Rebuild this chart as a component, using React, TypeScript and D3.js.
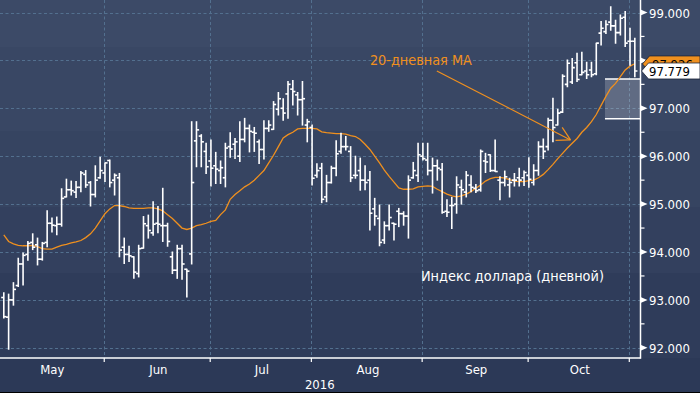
import React from 'react';
import * as d3 from 'd3';

const W = 700;
const H = 393;

// Daily OHLC, US Dollar Index, May 2 – Nov 1 2016 (weekday index)
const opens = [
  93.05, 92.64, 93.0, 93.3, 93.75, 93.95, 94.2, 94.15, 93.85, 94.2,
  94.6, 94.55, 94.58, 95.15, 95.3, 95.25, 95.35, 95.62, 95.45, 95.2,
  95.55, 95.65, 95.91, 95.5, 95.55, 94.1, 93.95, 93.9, 93.55, 94.08,
  94.55, 94.4, 94.6, 94.55, 94.55, 93.9, 93.62, 94.07, 93.64, 93.96,
  96.32, 96.42, 96.1, 95.9, 95.8, 95.7, 95.55, 96.2, 96.25, 96.0,
  96.35, 96.58, 96.5, 96.3, 96.14, 96.58, 96.56, 96.98, 97.0, 97.3,
  97.4, 97.28, 97.18, 96.65, 96.6, 95.6, 95.75, 95.15, 95.45, 95.75,
  96.1, 96.2, 96.1, 95.6, 95.7, 95.5, 95.5, 94.9, 94.7, 94.25,
  94.55, 94.6, 94.85, 94.8, 94.75, 95.55, 95.6, 96.0, 95.92, 95.7,
  95.8, 95.72, 94.85, 94.97, 95.0, 95.35, 95.25, 95.4, 95.33, 95.3,
  95.9, 96.03, 95.7, 95.5, 95.45, 95.4, 95.5, 95.55, 95.55, 95.6,
  95.45, 95.7, 96.2, 96.2, 96.75, 96.65, 96.92, 97.5, 97.55, 97.95,
  97.7, 97.78, 97.8, 97.72, 98.57, 98.6, 98.8, 98.72, 98.58, 98.9,
  98.4, 98.4,
];
const highs = [
  93.15, 93.12, 93.36, 93.87, 93.98, 94.22, 94.38, 94.29, 94.2, 94.86,
  94.71, 94.73, 95.32, 95.52, 95.48, 95.47, 95.68, 95.7, 95.47, 95.8,
  95.98, 95.86, 95.92, 95.63, 95.64, 94.29, 94.12, 93.9, 94.14, 94.74,
  94.77, 95.05, 94.95, 95.33, 94.6, 94.0, 94.14, 94.14, 93.64, 96.72,
  96.72, 96.45, 96.27, 96.34, 96.08, 95.9, 96.27, 96.49, 96.37, 96.72,
  96.79, 96.65, 96.6, 96.34, 96.74, 96.74, 97.14, 97.33, 97.2, 97.56,
  97.58, 97.33, 97.56, 96.77, 96.65, 95.84, 95.85, 95.6, 95.79, 96.32,
  96.48, 96.41, 96.2, 96.0, 95.96, 95.8, 95.68, 95.12, 94.98, 94.63,
  94.98, 94.6, 94.91, 94.84, 95.59, 95.87, 96.27, 96.27, 96.27, 95.96,
  95.92, 95.85, 95.09, 95.14, 95.57, 95.5, 95.68, 95.59, 95.41, 96.13,
  96.06, 96.03, 96.34, 95.57, 95.69, 95.54, 95.64, 95.75, 95.69, 95.97,
  95.82, 96.3, 96.36, 96.79, 97.21, 96.98, 97.7, 98.01, 98.04, 98.15,
  98.17, 97.96, 97.96, 98.36, 98.81, 98.83, 99.12, 98.84, 98.95, 99.02,
  98.67, 98.46,
];
const lows = [
  92.62, 91.97, 92.89, 93.28, 93.31, 93.83, 94.05, 93.73, 93.83, 94.11,
  94.42, 94.36, 94.54, 95.15, 95.19, 95.14, 95.26, 95.35, 94.96, 95.15,
  95.54, 95.47, 95.36, 95.19, 93.9, 93.76, 93.8, 93.45, 93.48, 94.08,
  94.29, 94.35, 94.4, 94.22, 94.12, 93.55, 93.45, 93.43, 93.06, 93.75,
  95.78, 95.78, 95.64, 95.38, 95.43, 95.43, 95.36, 95.98, 95.95, 95.89,
  96.3, 96.09, 96.1, 95.85, 95.94, 96.52, 96.56, 96.86, 96.75, 96.79,
  97.07, 96.86, 96.65, 96.3, 95.4, 95.56, 95.03, 95.05, 95.44, 95.59,
  96.06, 96.13, 95.47, 95.54, 95.29, 95.3, 94.46, 94.56, 94.13, 94.18,
  94.46, 94.25, 94.53, 94.56, 94.29, 95.54, 95.47, 95.92, 95.61, 95.23,
  95.5, 94.81, 94.74, 94.49, 94.81, 95.0, 95.15, 95.26, 95.24, 95.27,
  95.66, 95.68, 95.68, 95.09, 95.38, 95.15, 95.38, 95.38, 95.39, 95.35,
  95.4, 95.6, 95.95, 96.13, 96.3, 96.65, 96.91, 97.45, 97.52, 97.56,
  97.7, 97.62, 97.66, 97.7, 98.32, 98.56, 98.63, 98.36, 98.53, 98.29,
  97.9, 97.66,
];
const closes = [
  92.65, 93.0, 93.22, 93.75, 93.93, 94.18, 94.1, 93.85, 94.18, 94.6,
  94.56, 94.58, 95.12, 95.3, 95.28, 95.35, 95.65, 95.4, 95.2, 95.5,
  95.7, 95.86, 95.45, 95.6, 94.04, 93.95, 93.92, 93.58, 94.07, 94.59,
  94.45, 94.58, 94.58, 94.55, 94.22, 93.62, 94.07, 93.75, 93.6, 95.45,
  96.55, 96.3, 95.78, 95.75, 95.73, 95.76, 96.17, 96.15, 96.3, 96.35,
  96.58, 96.52, 96.48, 96.14, 96.58, 96.65, 97.08, 97.2, 96.9, 97.5,
  97.35, 97.18, 97.2, 96.72, 95.54, 95.7, 95.1, 95.45, 95.75, 96.05,
  96.2, 96.2, 95.55, 95.6, 95.5, 95.45, 94.81, 94.75, 94.2, 94.55,
  94.72, 94.58, 94.8, 94.75, 95.5, 95.7, 96.03, 95.95, 95.7, 95.8,
  95.75, 94.83, 94.83, 94.97, 95.4, 95.3, 95.6, 95.35, 95.28, 96.1,
  95.88, 95.7, 95.68, 95.45, 95.57, 95.45, 95.5, 95.5, 95.66, 95.52,
  95.7, 96.2, 96.1, 96.75, 96.6, 96.9, 97.67, 97.94, 97.85, 97.6,
  97.75, 97.7, 97.7, 98.36, 98.67, 98.75, 98.72, 98.58, 98.88, 98.36,
  98.4, 97.779,
];
// 20-day moving average (orange line)
const ma20 = [
  94.36, 94.22, 94.17, 94.14, 94.13, 94.13, 94.14, 94.11, 94.07, 94.06,
  94.06, 94.1, 94.14, 94.16, 94.19, 94.21, 94.24, 94.3, 94.38, 94.5,
  94.65, 94.8, 94.9, 94.97, 94.97, 94.95, 94.92, 94.91, 94.91, 94.91,
  94.92, 94.92, 94.9, 94.86, 94.78, 94.7, 94.6, 94.5, 94.47, 94.5,
  94.55, 94.57, 94.6, 94.64, 94.66, 94.78, 94.88, 95.1, 95.2, 95.28,
  95.36, 95.42, 95.5, 95.6, 95.7, 95.86, 96.02, 96.2, 96.38, 96.45,
  96.5, 96.57, 96.58, 96.58, 96.58, 96.57, 96.51, 96.49, 96.48, 96.47,
  96.47, 96.46, 96.43, 96.41, 96.35, 96.25, 96.14, 96.0, 95.86, 95.71,
  95.58, 95.46, 95.34, 95.31, 95.31, 95.32, 95.36, 95.37, 95.38, 95.37,
  95.31, 95.26, 95.21, 95.17, 95.15, 95.17, 95.21, 95.26, 95.33, 95.4,
  95.48, 95.53, 95.56, 95.56, 95.54, 95.51, 95.48, 95.47, 95.47, 95.49,
  95.5, 95.55, 95.62, 95.72, 95.83, 95.95, 96.06, 96.17, 96.27, 96.37,
  96.5, 96.6, 96.72, 96.87, 97.06, 97.25, 97.42, 97.52, 97.66, 97.8,
  97.88, 97.93,
];

const monthLabels = ['May', 'Jun', 'Jul', 'Aug', 'Sep', 'Oct'];
const monthStartIdx = [0, 22, 44, 65, 88, 110, 131];
const yearLabel = '2016';
const yearLabelIdx = 65.6;
const yMajorTicks = [92, 93, 94, 95, 96, 97, 98, 99];
const yMinorTicks = [92.5, 93.5, 94.5, 95.5, 96.5, 97.5, 98.5];
const lastPrice = 97.779;
const maLastLabel = 97.926;
const boxRange = [96.78, 97.61];
const boxStartIdx = 124.8;
const annotationText = '20-дневная MA';
const annotationTextPos = [76.0, 97.9];
const annotationFrom = [89.9, 97.78];
const annotationTo = [117.65, 96.34];
const seriesTitle = 'Индекс доллара (дневной)';
const seriesTitlePos = [86.6, 93.39];

const FONT = "'DejaVu Sans Condensed', 'DejaVu Sans', sans-serif";
const FONT_W = "'DejaVu Sans', sans-serif";

export default function App() {
  const plotRight = 640.5;
  const axisY = 358;
  const x = d3.scaleLinear().domain([0, 131]).range([3.8, 3.8 + 131 * 4.817]);
  const y = d3.scaleLinear().domain([92, 99]).range([347.8, 12.5]);

  const tickX = monthStartIdx.map((i) => x(i - 1.15));
  const labelX = monthLabels.map((_, i) => x((monthStartIdx[i] + monthStartIdx[i + 1] - 1) / 2) - 2);
  const maLine = d3
    .line<number>()
    .x((_, i) => x(i))
    .y((d) => y(d))(ma20) as string;

  const bands = [
    { y0: 0, y1: 47, c: '#3c4a67' },
    { y0: 47, y1: 131, c: '#394764' },
    { y0: 131, y1: 207, c: '#364461' },
    { y0: 207, y1: 273, c: '#33405e' },
    { y0: 273, y1: 358, c: '#2f3c5a' },
    { y0: 358, y1: 393, c: '#2c3957' },
  ];

  const gridColor = '#53708f';
  const orange = '#f0901e';

  // annotation arrow geometry
  const ax0 = x(annotationFrom[0]);
  const ay0 = y(annotationFrom[1]);
  const ax1 = x(annotationTo[0]);
  const ay1 = y(annotationTo[1]);
  const ang = Math.atan2(ay1 - ay0, ax1 - ax0);
  const headLen = 15;
  const headAng = (29 * Math.PI) / 180;
  const h1x = ax1 - headLen * Math.cos(ang - headAng);
  const h1y = ay1 - headLen * Math.sin(ang - headAng);
  const h2x = ax1 - headLen * Math.cos(ang + headAng);
  const h2y = ay1 - headLen * Math.sin(ang + headAng);

  const lpY = y(lastPrice);
  const maY = y(maLastLabel);

  return (
    <svg
      width={W}
      height={H}
      style={{ position: 'absolute', left: 0, top: 0, display: 'block' }}
    >
      <defs>
        <clipPath id="plotClip">
          <rect x={0} y={0} width={plotRight} height={axisY} />
        </clipPath>
        <clipPath id="maLabelClip">
          <rect x={plotRight} y={maY - 8} width={W - plotRight} height={lpY - 8 - (maY - 8)} />
        </clipPath>
      </defs>
      {bands.map((b, i) => (
        <rect key={i} x={0} y={b.y0} width={W} height={b.y1 - b.y0} fill={b.c} />
      ))}
      <rect x={0} y={H - 1} width={W} height={1} fill="#000" />

      {/* grid */}
      <g stroke={gridColor} strokeWidth={1} strokeDasharray="3,2.5">
        {yMajorTicks.map((v) => (
          <line key={v} x1={0} x2={plotRight} y1={Math.round(y(v)) + 0.5} y2={Math.round(y(v)) + 0.5} />
        ))}
        {tickX.slice(1).map((tx, i) => (
          <line key={i} x1={Math.round(tx) + 0.5} x2={Math.round(tx) + 0.5} y1={0} y2={axisY} />
        ))}
      </g>

      {/* highlighted box */}
      <g>
        <rect
          x={x(boxStartIdx)}
          y={y(boxRange[1])}
          width={plotRight - x(boxStartIdx)}
          height={y(boxRange[0]) - y(boxRange[1])}
          fill="#ffffff"
          fillOpacity={0.2}
        />
        <line x1={x(boxStartIdx)} x2={plotRight} y1={y(boxRange[1])} y2={y(boxRange[1])} stroke="#fff" strokeWidth={1.5} />
        <line x1={x(boxStartIdx)} x2={plotRight} y1={y(boxRange[0])} y2={y(boxRange[0])} stroke="#fff" strokeWidth={1.5} />
      </g>

      <g clipPath="url(#plotClip)">
        <path d={maLine} fill="none" stroke={orange} strokeWidth={1.3} />
        <g stroke="#ffffff" strokeWidth={1.6}>
          {closes.map((c, i) => {
            const cx = x(i);
            return (
              <g key={i}>
                <line x1={cx} x2={cx} y1={y(highs[i]) - 0.5} y2={y(lows[i]) + 0.5} />
                <line x1={cx - 2.6} x2={cx} y1={y(opens[i])} y2={y(opens[i])} />
                <line x1={cx} x2={cx + 2.6} y1={y(c)} y2={y(c)} />
              </g>
            );
          })}
        </g>
      </g>

      {/* annotation */}
      <g stroke={orange} strokeWidth={1.2} fill="none">
        <line x1={ax0} y1={ay0} x2={ax1} y2={ay1} />
        <line x1={h1x} y1={h1y} x2={ax1} y2={ay1} />
        <line x1={h2x} y1={h2y} x2={ax1} y2={ay1} />
      </g>
      <text
        x={x(annotationTextPos[0])}
        y={y(annotationTextPos[1])}
        fill={orange}
        fontFamily={FONT_W}
        fontSize={13.5}
        textLength={102}
        lengthAdjust="spacingAndGlyphs"
      >
        {annotationText}
      </text>
      <text
        x={x(seriesTitlePos[0])}
        y={y(seriesTitlePos[1])}
        fill="#ffffff"
        fontFamily={FONT_W}
        fontSize={13.5}
        textLength={183}
        lengthAdjust="spacingAndGlyphs"
      >
        {seriesTitle}
      </text>

      {/* axes */}
      <line x1={plotRight} x2={plotRight} y1={0} y2={axisY + 0.75} stroke="#fff" strokeWidth={1.5} />
      <line x1={0} x2={plotRight} y1={axisY} y2={axisY} stroke="#fff" strokeWidth={1.5} />
      {tickX.slice(1).map((tx, i) => (
        <line key={i} x1={tx} x2={tx} y1={axisY} y2={axisY + 4} stroke="#fff" strokeWidth={1.2} />
      ))}
      {monthLabels.map((m, i) => (
        <text
          key={m}
          x={labelX[i]}
          y={373.5}
          fill="#fff"
          fontFamily={FONT}
          fontSize={13}
          textAnchor="middle"
        >
          {m}
        </text>
      ))}
      <text x={x(yearLabelIdx)} y={389} fill="#fff" fontFamily={FONT} fontSize={13} textAnchor="middle">
        {yearLabel}
      </text>

      {yMinorTicks.map((v) => (
        <line key={v} x1={plotRight} x2={plotRight + 4} y1={y(v)} y2={y(v)} stroke="#fff" strokeWidth={1.2} />
      ))}
      {yMajorTicks.map((v) => {
        const ty = y(v);
        return (
          <g key={v}>
            <polygon
              points={`${plotRight},${ty - 3} ${plotRight + 7},${ty} ${plotRight},${ty + 3}`}
              fill="#fff"
            />
            <text x={649} y={ty + 5} fill="#fff" fontFamily={FONT} fontSize={13}>
              {d3.format('.3f')(v)}
            </text>
          </g>
        );
      })}

      {/* MA last-value label (mostly hidden behind the price label) */}
      <g>
        <polygon
          points={`${plotRight + 2},${maY} ${plotRight + 9},${maY - 8} ${W},${maY - 8} ${W},${maY + 8} ${plotRight + 9},${maY + 8}`}
          fill={orange}
          stroke="#1c2438"
          strokeWidth={0.8}
        />
        <g clipPath="url(#maLabelClip)">
          <text x={652} y={maY + 5} fill="#000" fontFamily={FONT} fontSize={13}>
            {d3.format('.3f')(maLastLabel)}
          </text>
        </g>
      </g>
      {/* last price label */}
      <g>
        <polygon
          points={`${plotRight + 1},${lpY} ${plotRight + 8},${lpY - 8} ${W},${lpY - 8} ${W},${lpY + 8} ${plotRight + 8},${lpY + 8}`}
          fill="#ffffff"
          stroke="#1c2438"
          strokeWidth={0.8}
        />
        <text x={649} y={lpY + 5} fill="#000" fontFamily={FONT} fontSize={13}>
          {d3.format('.3f')(lastPrice)}
        </text>
      </g>
    </svg>
  );
}
